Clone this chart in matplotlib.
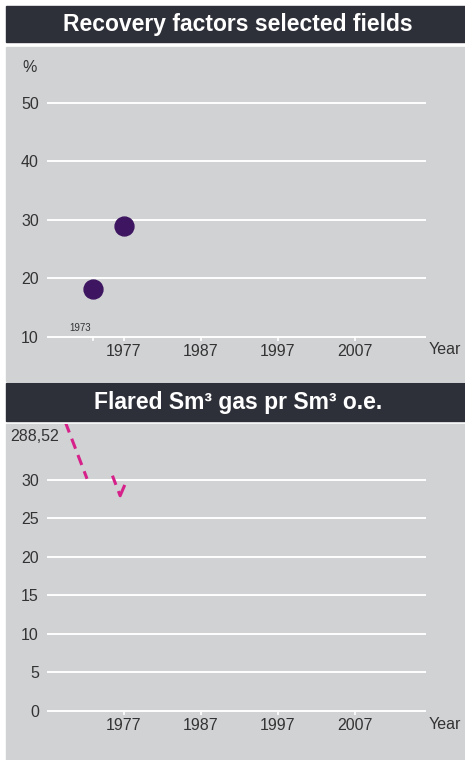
import matplotlib
matplotlib.use("Agg")
import matplotlib.pyplot as plt
from matplotlib.patches import Rectangle

# recovery factors (%)
rf_years = [1973, 1977]
rf_values = [18.2, 29.0]

# flared gas, visible pieces of the broken dashed line
flare_years_a = [1969.4, 1972.2]
flare_vals_a = [37.4, 30.1]
flare_years_b = [1975.5, 1976.5, 1977.1]
flare_vals_b = [30.5, 27.9, 29.3]
flare_first_label = "288,52"

year_ticks = [1977, 1987, 1997, 2007]
rf_yticks = [10, 20, 30, 40, 50]
flare_yticks = [0, 5, 10, 15, 20, 25, 30]

W, H = 465, 760
PANEL = "#d1d2d4"
HEAD = "#2e3039"
DOT = "#3d1560"
PINK = "#d6218a"
TXT = "#333333"

plt.rcParams['font.family'] = ['Liberation Sans', 'DejaVu Sans']

fig = plt.figure(figsize=(W / 100, H / 100), dpi=100)
fig.patch.set_facecolor("white")


def rect(x0, y0, x1, y1, color):
    # pixel box, y measured from top
    fig.patches.append(Rectangle((x0 / W, 1 - y1 / H), (x1 - x0) / W, (y1 - y0) / H,
                                 transform=fig.transFigure, color=color, zorder=-5))


def px_axes(x0, y0, x1, y1):
    ax = fig.add_axes([x0 / W, 1 - y1 / H, (x1 - x0) / W, (y1 - y0) / H])
    ax.set_facecolor("none")
    for s in ax.spines.values():
        s.set_visible(False)
    return ax


# backgrounds
rect(6, 6, W, 42, HEAD)
rect(6, 47, W, 381, PANEL)
rect(6, 383, W, 421, HEAD)
rect(6, 424, W, H, PANEL)

fig.text(238 / W, 1 - 24 / H, "Recovery factors selected fields", color="white",
         fontsize=16.5, fontweight="bold", ha="center", va="center")
fig.text(238 / W, 1 - 402 / H, "Flared Sm³ gas pr Sm³ o.e.", color="white",
         fontsize=16.5, fontweight="bold", ha="center", va="center")

x_lim = (1967.13, 2016.1)


def style_axis(ax, yticks):
    ax.set_xlim(*x_lim)
    ax.set_yticks(yticks)
    for v in yticks:
        ax.axhline(v, color="white", lw=1.4, clip_on=False, zorder=1)
    ax.tick_params(axis="y", length=0, pad=6.5, labelsize=11.5, labelcolor=TXT)
    ax.tick_params(axis="x", length=3, width=1.2, color="white", pad=2,
                   labelsize=11.5, labelcolor=TXT)
    ax.annotate("Year", xy=(1.0, 0.0), xycoords="axes fraction",
                xytext=(2.5, -9.5), textcoords="offset points",
                fontsize=11.5, color=TXT, ha="left", va="center")


# top: recovery factors
ax1 = px_axes(48, 73.5, 425, 336.7)
ax1.set_ylim(10, 55)
ax1.set_xticks(year_ticks)
style_axis(ax1, rf_yticks)
ax1.scatter(rf_years, rf_values, s=185, color=DOT, zorder=3, clip_on=False)
# small 1973 tick and label
ax1.plot([1973, 1973], [10, 9.4], color="white", lw=1.2, clip_on=False)
ax1.text(1971.3, 11.5, "1973", fontsize=7, color=TXT, ha="center", va="center")
fig.text(30 / W, 1 - 67 / H, "%", fontsize=11.5, color=TXT, ha="center", va="center")

# bottom: flared gas
ax2 = px_axes(48, 424, 425, 711)
ax2.set_ylim(0, 37.2)
ax2.set_xticks(year_ticks)
style_axis(ax2, flare_yticks)
ax2.plot(flare_years_a, flare_vals_a, color=PINK, lw=2.2, ls=(0, (3.5, 2.2)), zorder=3)
ax2.plot(flare_years_b, flare_vals_b, color=PINK, lw=2.2, ls=(0, (3.2, 2.2, 14, 10)),
         zorder=3, solid_joinstyle="miter")
fig.text(35 / W, 1 - 437 / H, flare_first_label, fontsize=11.5, color=TXT,
         ha="center", va="center")

fig.savefig("out.png", dpi=100, facecolor="white")
